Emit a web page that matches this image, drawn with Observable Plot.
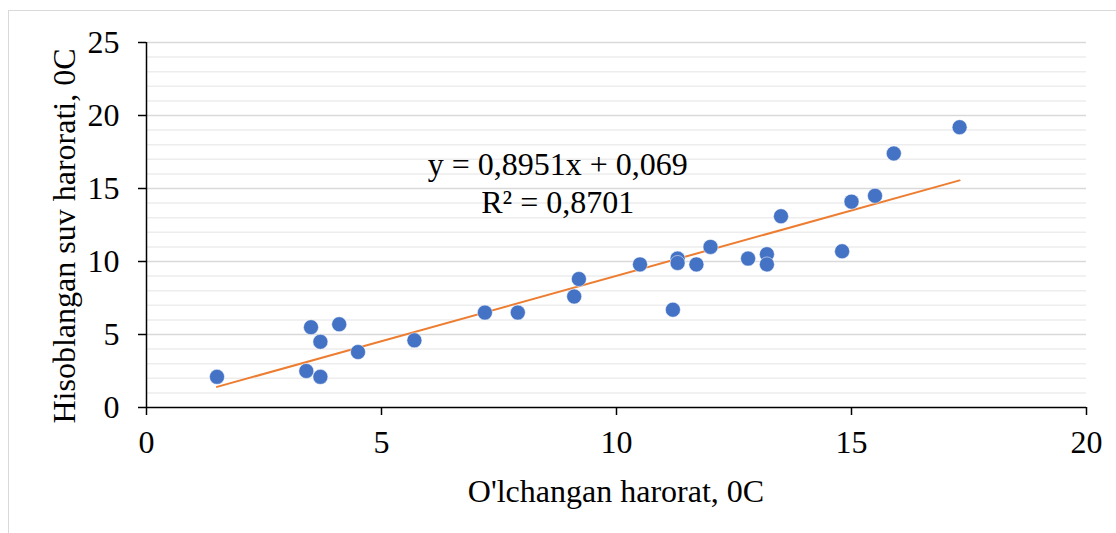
<!DOCTYPE html>
<html><head><meta charset="utf-8">
<script src="https://cdn.jsdelivr.net/npm/d3@7"></script>
<script src="https://cdn.jsdelivr.net/npm/@observablehq/plot@0.6"></script>
<style>
html,body{margin:0;padding:0;background:#fff;}
#wrap{position:relative;width:1116px;height:533px;overflow:hidden;}
#frame{position:absolute;left:8px;top:10px;width:1120px;height:540px;border:1.5px solid #d9d9d9;box-sizing:border-box;}
#chart{position:absolute;left:0;top:0;}
</style></head>
<body><div id="wrap"><div id="frame"></div><div id="chart"></div></div>
<script>
const measured = [1.5,3.4,3.5,3.7,3.7,4.1,4.5,5.7,7.2,7.9,9.1,9.2,10.5,11.3,11.3,11.2,11.7,12.0,12.8,13.2,13.2,13.5,14.8,15.0,15.5,15.9,17.3];
const computed = [2.1,2.5,5.5,4.5,2.1,5.7,3.8,4.6,6.5,6.5,7.6,8.8,9.8,10.2,9.9,6.7,9.8,11.0,10.2,10.5,9.8,13.1,10.7,14.1,14.5,17.4,19.2];
const slope = 0.8951, intercept = 0.069;
const eqLines = ["y = 0,8951x + 0,069", "R² = 0,8701"];
const eqX = [8.75, 8.75];
const eqY = [16.6, 14.05];
const xTicks = [0,5,10,15,20];
const yTicks = [0,5,10,15,20,25];
const minorY = d3.range(1,26).filter(v => v % 5 !== 0);
const xTitle = "O'lchangan harorat, 0C";
const yTitle = "Hisoblangan suv harorati, 0C";

const FONT = "'Liberation Serif', 'Times New Roman', serif";
const pts = measured.map((x,i)=>({x, y: computed[i]}));
const xmin = d3.min(measured), xmax = d3.max(measured);
const trend = [xmin, xmax].map(x => ({x, y: slope*x + intercept}));
const eq = eqLines.map((t,i)=>({t, x: eqX[i], y: eqY[i]}));

const chart = Plot.plot({
  width: 1116, height: 533,
  marginLeft: 146, marginRight: 30, marginTop: 42, marginBottom: 126,
  style: {fontFamily: FONT, fontSize: "32px", color: "#000", background: "transparent"},
  x: {domain: [0,20]},
  y: {domain: [0,25]},
  marks: [
    Plot.ruleY(minorY, {stroke: "#ededed", strokeWidth: 1.5}),
    Plot.ruleY(yTicks.filter(v=>v>0), {stroke: "#d9d9d9", strokeWidth: 1.5}),
    Plot.axisX({ticks: xTicks, tickSize: 8, tickPadding: 15, stroke: "#000", strokeWidth: 1.5, fontSize: 32, fill: "#000", label: null, tickFormat: d=>String(d)}),
    Plot.axisY({ticks: yTicks, tickSize: 8, tickPadding: 19, stroke: "#000", strokeWidth: 1.5, fontSize: 32, fill: "#000", label: null, tickFormat: d=>String(d)}),
    Plot.ruleX([0], {stroke: "#000", strokeWidth: 1.5}),
    Plot.ruleY([0], {stroke: "#000", strokeWidth: 1.5}),
    Plot.line(trend, {x: "x", y: "y", stroke: "#ED7D31", strokeWidth: 2}),
    Plot.dot(pts, {x: "x", y: "y", r: 7.5, fill: "#4472C4", stroke: "#fff", strokeWidth: 0.5}),
    Plot.text(eq, {x: "x", y: "y", text: "t", fontSize: 32, fill: "#000", textAnchor: "middle"})
  ]
});
const svg = d3.select(chart);
svg.append("text").attr("x", 616).attr("y", 502).attr("text-anchor","middle")
  .style("font-size","32px").style("font-family",FONT).attr("fill","#000").text(xTitle);
svg.append("text").attr("transform","translate(75,236) rotate(-90)").attr("text-anchor","middle")
  .style("font-size","32px").style("font-family",FONT).attr("fill","#000").text(yTitle);
document.getElementById("chart").appendChild(chart);
</script></body></html>
